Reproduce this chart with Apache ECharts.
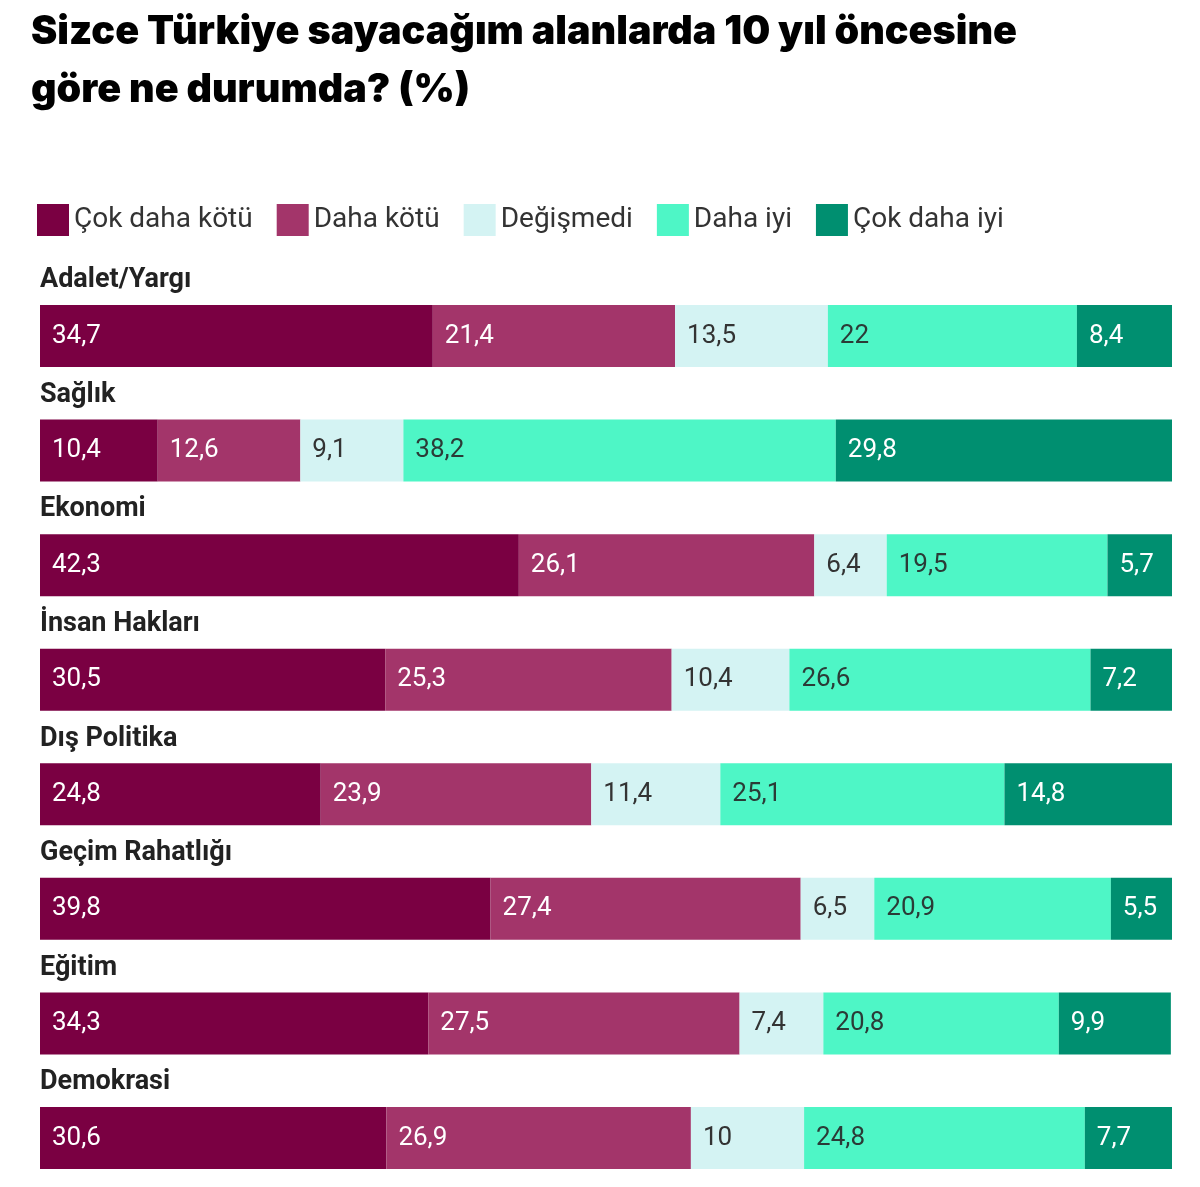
<!DOCTYPE html>
<html>
<head>
<meta charset="utf-8">
<script src="https://cdn.jsdelivr.net/npm/echarts@6/dist/echarts.min.js"></script>
<style>
    html, body { margin: 0; padding: 0; background: #fff; }
    #chart { width: 1200px; height: 1187px; }
</style>
</head>
<body>
<div id="chart"></div>
<script>
// kategoriler (yukarıdan aşağı)
var categories = ['Adalet/Yargı', 'Sağlık', 'Ekonomi', 'İnsan Hakları', 'Dış Politika', 'Geçim Rahatlığı', 'Eğitim', 'Demokrasi'];

var seriesNames = ['Çok daha kötü', 'Daha kötü', 'Değişmedi', 'Daha iyi', 'Çok daha iyi'];

var cokDahaKotu = [34.7, 10.4, 42.3, 30.5, 24.8, 39.8, 34.3, 30.6];
var dahaKotu    = [21.4, 12.6, 26.1, 25.3, 23.9, 27.4, 27.5, 26.9];
var degismedi   = [13.5, 9.1, 6.4, 10.4, 11.4, 6.5, 7.4, 10];
var dahaIyi     = [22, 38.2, 19.5, 26.6, 25.1, 20.9, 20.8, 24.8];
var cokDahaIyi  = [8.4, 29.8, 5.7, 7.2, 14.8, 5.5, 9.9, 7.7];

var colors = ['#7a0042', '#a3356a', '#d4f3f3', '#4ef6c6', '#008f70'];
var labelColors = ['#ffffff', '#ffffff', '#333333', '#2b3b37', '#ffffff'];

var allData = [cokDahaKotu, dahaKotu, degismedi, dahaIyi, cokDahaIyi];

var series = allData.map(function (values, i) {
    return {
        name: seriesNames[i],
        type: 'bar',
        stack: 'toplam',
        barWidth: 62,
        data: values,
        itemStyle: { color: colors[i] },
        label: {
            show: true,
            position: 'insideLeft',
            distance: 12,
            color: labelColors[i],
            fontFamily: 'Roboto',
            fontSize: 26,
            formatter: function (p) {
                return String(p.value).replace('.', ',');
            }
        },
        emphasis: { disabled: true }
    };
});

var myChart = echarts.init(document.getElementById('chart'));

myChart.setOption({
    animation: false,
    title: {
        text: 'Sizce Türkiye sayacağım alanlarda 10 yıl öncesine\ngöre ne durumda? (%)',
        left: 26,
        top: -2,
        textStyle: {
            fontFamily: 'Inter',
            fontWeight: 900,
            fontSize: 39.5,
            lineHeight: 58,
            color: '#000'
        }
    },
    legend: {
        left: 32,
        top: 199,
        itemWidth: 32,
        itemHeight: 32,
        itemGap: 24,
        icon: 'rect',
        data: seriesNames,
        textStyle: {
            fontFamily: 'Roboto',
            fontSize: 28,
            color: '#333'
        }
    },
    grid: {
        left: 40,
        right: 28,
        top: 336,
        height: 802
    },
    xAxis: {
        type: 'value',
        min: 0,
        max: 100,
        show: false
    },
    yAxis: {
        type: 'category',
        inverse: true,
        boundaryGap: false,
        data: categories,
        axisLine: { show: false },
        axisTick: { show: false },
        axisLabel: {
            inside: true,
            margin: 0,
            align: 'left',
            verticalAlign: 'bottom',
            padding: [0, 0, 42, 0],
            fontFamily: 'Roboto',
            fontWeight: 'bold',
            fontSize: 27,
            color: '#222'
        }
    },
    series: series
});
</script>
</body>
</html>
